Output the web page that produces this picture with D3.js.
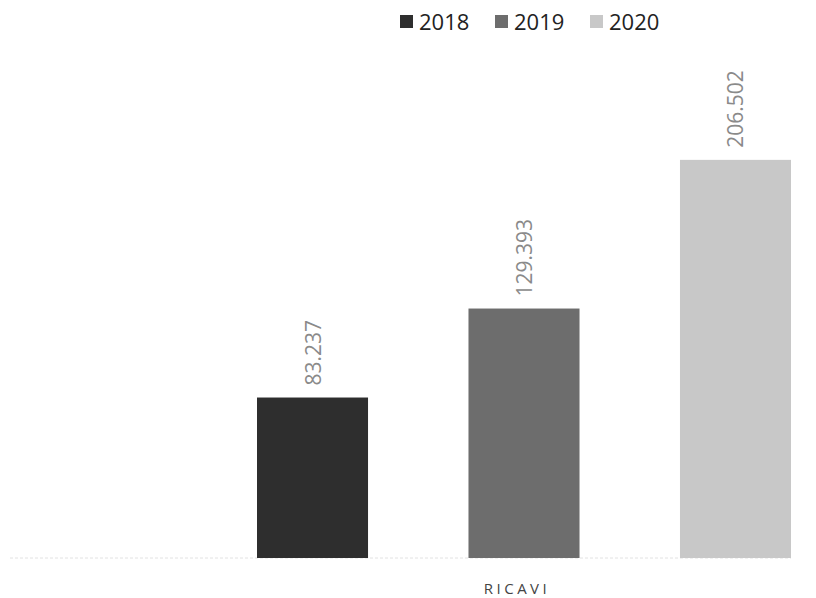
<!DOCTYPE html>
<html>
<head>
<meta charset="utf-8">
<script src="https://cdn.jsdelivr.net/npm/d3@7"></script>
<style>
  body { margin: 0; background: #fff; }
  text { font-family: "Open Sans", "Noto Sans", sans-serif; }
</style>
</head>
<body>
<div id="chart"></div>
<script>
// data
var categories = ["RICAVI"];
var years = ["2018", "2019", "2020"];
var values = [83.237, 129.393, 206.502];
var labels = ["83.237", "129.393", "206.502"];
var colors = ["#2e2e2e", "#6d6d6d", "#c8c8c8"];

var W = 816, H = 598;
var margin = {top: 76, right: 25, bottom: 40, left: 10};
var width = W - margin.left - margin.right,
    height = H - margin.top - margin.bottom;

var svg = d3.select("#chart").append("svg")
    .attr("width", W).attr("height", H);

var g = svg.append("g")
    .attr("transform", "translate(" + margin.left + "," + margin.top + ")");

// bars sit in the right part of the plot, like the original
var x0 = d3.scaleBand().domain(categories).range([247 - margin.left, 791 - margin.left]);
var x1 = d3.scaleBand().domain(years)
    .range([x0(categories[0]) + 10, x0(categories[0]) + x0.bandwidth()])
    .paddingInner(0.475).paddingOuter(0);
var y = d3.scaleLinear().domain([0, 250]).range([height, 0]);
var color = d3.scaleOrdinal().domain(years).range(colors);

// baseline
g.append("line")
    .attr("x1", 0).attr("x2", width)
    .attr("y1", y(0)).attr("y2", y(0))
    .attr("stroke", "#e2e2e2").attr("stroke-dasharray", "3,2");

var data = years.map(function(yr, i) { return {year: yr, value: values[i], label: labels[i]}; });

g.selectAll(".bar")
    .data(data)
    .enter().append("rect")
    .attr("class", "bar")
    .attr("x", function(d) { return x1(d.year); })
    .attr("y", function(d) { return y(d.value); })
    .attr("width", x1.bandwidth())
    .attr("height", function(d) { return y(0) - y(d.value); })
    .attr("fill", function(d) { return color(d.year); });

g.selectAll(".val")
    .data(data)
    .enter().append("text")
    .attr("class", "val")
    .attr("transform", function(d) {
      return "translate(" + (x1(d.year) + x1.bandwidth() / 2 + 8) + "," + (y(d.value) - 12) + ") rotate(-90)";
    })
    .attr("fill", "#8a8a8a")
    .style("font-size", "21px")
    .text(function(d) { return d.label; });

// category label
g.append("text")
    .attr("x", x0(categories[0]) + x0.bandwidth() / 2 - 2)
    .attr("y", height + 36)
    .attr("text-anchor", "middle")
    .attr("fill", "#444")
    .style("font-size", "15px")
    .style("letter-spacing", "3.5px")
    .text(categories[0]);

// legend
var legendX = [400, 495, 590];
var legend = svg.selectAll(".legend")
    .data(years)
    .enter().append("g")
    .attr("class", "legend")
    .attr("transform", function(d, i) { return "translate(" + legendX[i] + ",15)"; });

legend.append("rect")
    .attr("width", 13).attr("height", 13)
    .attr("fill", function(d) { return color(d); });

legend.append("text")
    .attr("x", 19).attr("y", 7)
    .attr("dy", ".35em")
    .attr("fill", "#222")
    .style("font-size", "22px")
    .text(function(d) { return d; });
</script>
</body>
</html>
